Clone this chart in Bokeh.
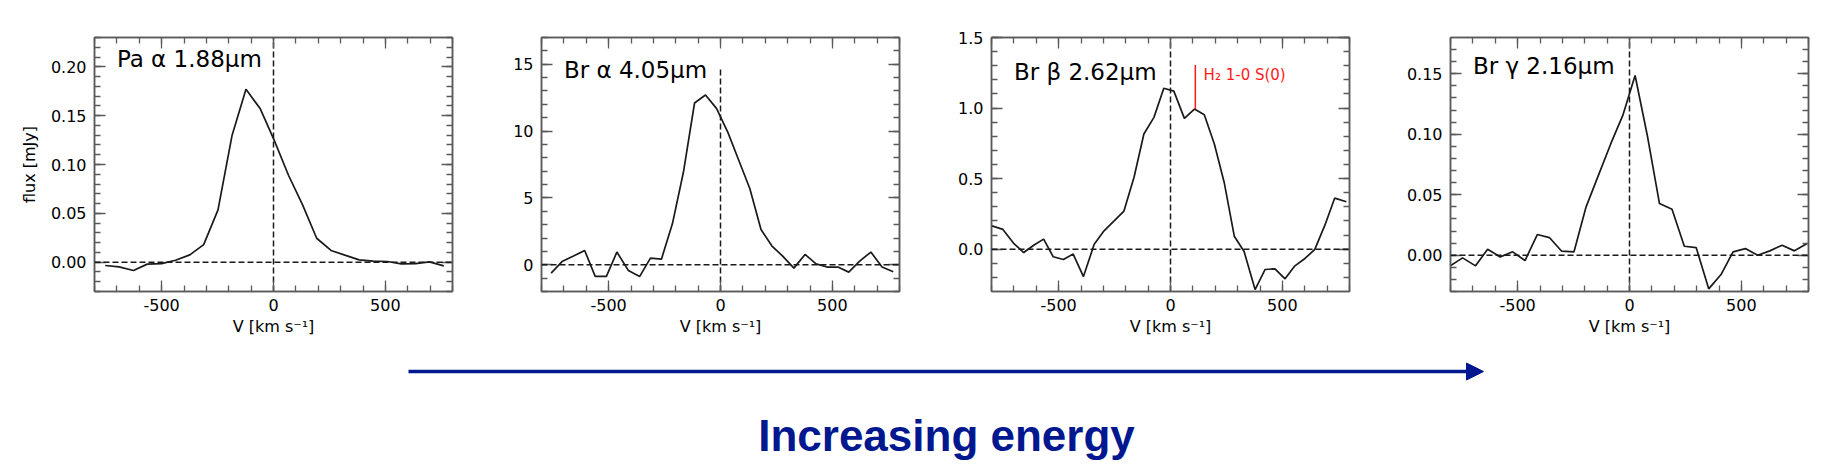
from bokeh.plotting import figure
from bokeh.models import (Range1d, SingleIntervalTicker, NumeralTickFormatter, LinearAxis,
                          CustomJSTickFormatter, Label, Arrow, NormalHead, Span)
from bokeh.layouts import row, column
from bokeh.embed import file_html
from bokeh.resources import INLINE

# ---------------- data ----------------
v_pa = [-752, -690, -626, -564, -500, -438, -374, -312, -248, -185, -123, -59, 3, 67, 130,
        193, 257, 319, 383, 445, 509, 571, 635, 697, 761]
f_pa = [-0.0034, -0.0048, -0.0085, -0.0020, -0.0014, 0.0020, 0.0075, 0.018, 0.0535, 0.130,
        0.177, 0.157, 0.125, 0.089, 0.0586, 0.0245, 0.012, 0.0072, 0.0024, 0.0010, 0.0007,
        -0.0017, -0.0014, 0.0003, -0.0037]

v_bra = [-757, -706, -657, -607, -560, -510, -463, -412, -361, -313, -264, -215, -166, -116,
         -67, -18, 33, 82, 131, 181, 230, 278, 328, 378, 427, 476, 525, 573, 622, 672, 722, 772]
f_bra = [-0.62, 0.27, 0.65, 1.07, -0.87, -0.87, 0.95, -0.42, -0.87, 0.50, 0.42, 3.06, 6.9,
         12.1, 12.7, 11.7, 9.9, 7.8, 5.7, 2.64, 1.4, 0.65, -0.25, 0.77, 0.07, -0.17, -0.17,
         -0.55, 0.27, 0.95, -0.17, -0.52]

v_brb = [-798, -749, -702, -656, -608, -567, -524, -479, -435, -389, -341, -297, -252, -208,
         -163, -119, -74, -30, 15, 62, 107, 151, 196, 240, 285, 329, 378, 423, 467, 512, 556,
         601, 645, 690, 734, 786]
f_brb = [0.165, 0.14, 0.043, -0.024, 0.031, 0.071, -0.054, -0.073, -0.035, -0.194, 0.035,
         0.13, 0.20, 0.27, 0.51, 0.816, 0.934, 1.14, 1.12, 0.927, 0.993, 0.953, 0.745, 0.473,
         0.092, -0.017, -0.286, -0.144, -0.139, -0.21, -0.118, -0.066, -0.002, 0.17, 0.362,
         0.336]

v_brg = [-801, -746, -688, -634, -578, -522, -467, -412, -358, -303, -248, -194, -139, -84,
         -30, 25, 81, 134, 190, 245, 298, 354, 409, 463, 518, 573, 627, 682, 737, 794]
f_brg = [-0.0088, -0.0022, -0.0088, 0.0050, -0.0014, 0.0028, -0.0044, 0.0171, 0.0146, 0.0033,
         0.0028, 0.040, 0.066, 0.092, 0.1156, 0.1486, 0.0977, 0.0427, 0.038, 0.0074, 0.0063,
         -0.0278, -0.016, 0.0028, 0.0055, 0.0, 0.0036, 0.0083, 0.0036, 0.0096]

titles = ["Pa α 1.88μm", "Br α 4.05μm", "Br β 2.62μm", "Br γ 2.16μm"]
title_y = [0.20, 14.0, 1.20, 0.15]          # baseline of each title (data units)
title_x = -700
y_ranges = [(-0.03, 0.23), (-2, 17), (-0.3, 1.5), (-0.03, 0.18)]
y_intervals = [0.05, 5, 0.5, 0.05]
y_formats = ["0.00", "0", "0.0", "0.00"]
vline_top = [0.23, 14.6, 1.5, 0.18]
x_range = (-800, 800)
x_interval = 500

h2_v = 111
h2_y = (0.993, 1.305)
h2_label = "H₂ 1-0 S(0)"
h2_label_pos = (148, 1.20)

xlabel = "V [km s⁻¹]"
ylabel = "flux [mJy]"
bottom_text = "Increasing energy"

# ---------------- style ----------------
FONT = "DejaVu Sans"
GRAY = "#5a5a5a"
LINE = "#1a1a1a"
BLUE = "#00188f"
left_borders = [94, 79, 82, 91]
right_borders = [10, 10, 10, 2]
TOP = 37
FRAME_H = 254
BOTTOM = 52
TITLE_PX = 23
H2_PX = 15
MID = 0.33   # em fraction between alphabetic baseline and text middle

series = [(v_pa, f_pa), (v_bra, f_bra), (v_brb, f_brb), (v_brg, f_brg)]
figs = []
for i, (vx, fy) in enumerate(series):
    lo, hi = y_ranges[i]
    dpp = (hi - lo) / FRAME_H
    p = figure(frame_width=358, frame_height=FRAME_H, title=None,
               x_range=Range1d(*x_range), y_range=Range1d(lo, hi),
               output_backend="svg", toolbar_location=None,
               min_border_left=left_borders[i], min_border_right=right_borders[i],
               min_border_top=TOP, min_border_bottom=BOTTOM,
               x_axis_location=None, y_axis_location=None)
    p.grid.visible = False
    p.outline_line_color = GRAY
    p.outline_line_width = 1.5
    p.background_fill_color = "white"
    p.border_fill_color = "white"

    def mk_axis(ticker, fmt, labels=True):
        ax = LinearAxis(ticker=ticker,
                        formatter=NumeralTickFormatter(format=fmt) if labels else CustomJSTickFormatter(code="return ''"))
        ax.axis_line_color = GRAY
        ax.axis_line_width = 1.5
        ax.major_tick_line_color = GRAY
        ax.minor_tick_line_color = GRAY
        ax.major_tick_line_width = 1.3
        ax.minor_tick_line_width = 1.3
        ax.major_tick_in = 11
        ax.major_tick_out = 0
        ax.minor_tick_in = 6
        ax.minor_tick_out = 0
        ax.major_label_text_font = FONT
        ax.major_label_text_font_size = "16px" if labels else "0px"
        ax.major_label_text_color = "black"
        ax.axis_label_text_font = FONT
        ax.axis_label_text_font_size = "16px"
        ax.axis_label_text_font_style = "normal"
        ax.axis_label_text_color = "black"
        return ax

    xt = SingleIntervalTicker(interval=x_interval, num_minor_ticks=5)
    yt = SingleIntervalTicker(interval=y_intervals[i], num_minor_ticks=5)

    xb = mk_axis(xt, "0")
    xb.axis_label = xlabel
    xb.major_label_standoff = 7
    xb.axis_label_standoff = 3
    p.add_layout(xb, "below")
    xa = mk_axis(xt, "0", labels=False)
    xa.major_label_standoff = 0
    p.add_layout(xa, "above")

    yl = mk_axis(yt, y_formats[i])
    yl.major_label_standoff = 8
    yl.axis_label_standoff = 9
    if i == 0:
        yl.axis_label = ylabel
    p.add_layout(yl, "left")
    yr = mk_axis(yt, y_formats[i], labels=False)
    yr.major_label_standoff = 0
    p.add_layout(yr, "right")

    # reference lines
    p.add_layout(Span(location=0, dimension="width", line_color=LINE, line_width=1.5,
                      line_dash="6 3"))
    p.segment(x0=[0], y0=[lo], x1=[0], y1=[vline_top[i]],
              line_color=LINE, line_width=1.5, line_dash="6 3")

    p.line(vx, fy, line_color=LINE, line_width=1.7)

    p.add_layout(Label(x=title_x, y=title_y[i] + MID * TITLE_PX * dpp, text=titles[i],
                       text_font=FONT, text_font_size=f"{TITLE_PX}px", text_color="black",
                       text_baseline="middle"))

    if i == 2:
        p.segment(x0=[h2_v], y0=[h2_y[0]], x1=[h2_v], y1=[h2_y[1]],
                  line_color="#ff1a1a", line_width=1.5)
        p.add_layout(Label(x=h2_label_pos[0], y=h2_label_pos[1] + MID * H2_PX * dpp,
                           text=h2_label, text_font=FONT, text_font_size=f"{H2_PX}px",
                           text_color="#ff1a1a", text_baseline="middle"))
    figs.append(p)

# bottom annotation strip: y measured upward from the strip's bottom edge (pixels)
STRIP_W, STRIP_H = 1810, 126
strip_top = TOP + FRAME_H + BOTTOM          # page y of the strip's top edge
strip_bottom = strip_top + STRIP_H
b = figure(width=STRIP_W, height=STRIP_H, title=None, x_range=Range1d(0, STRIP_W),
           y_range=Range1d(0, STRIP_H),
           output_backend="svg", toolbar_location=None, min_border=0,
           x_axis_location=None, y_axis_location=None)
b.grid.visible = False
b.outline_line_color = None
arrow_page_y = 371
arrow_x = (408, 1483)
TEXT_PX = 44
text_page_baseline = 450
text_x = 946
b.add_layout(Arrow(x_start=arrow_x[0], y_start=strip_bottom - arrow_page_y,
                   x_end=arrow_x[1], y_end=strip_bottom - arrow_page_y,
                   line_color=BLUE, line_width=3.5,
                   end=NormalHead(size=17, fill_color=BLUE, line_color=BLUE, line_width=1)))
b.add_layout(Label(x=text_x, y=strip_bottom - (text_page_baseline - MID * TEXT_PX),
                   text=bottom_text, text_font="Liberation Sans",
                   text_font_style="bold", text_font_size=f"{TEXT_PX}px", text_color=BLUE,
                   text_align="center", text_baseline="middle"))

layout = column(row(*figs), b)
open("out.html", "w").write(file_html(layout, INLINE))
